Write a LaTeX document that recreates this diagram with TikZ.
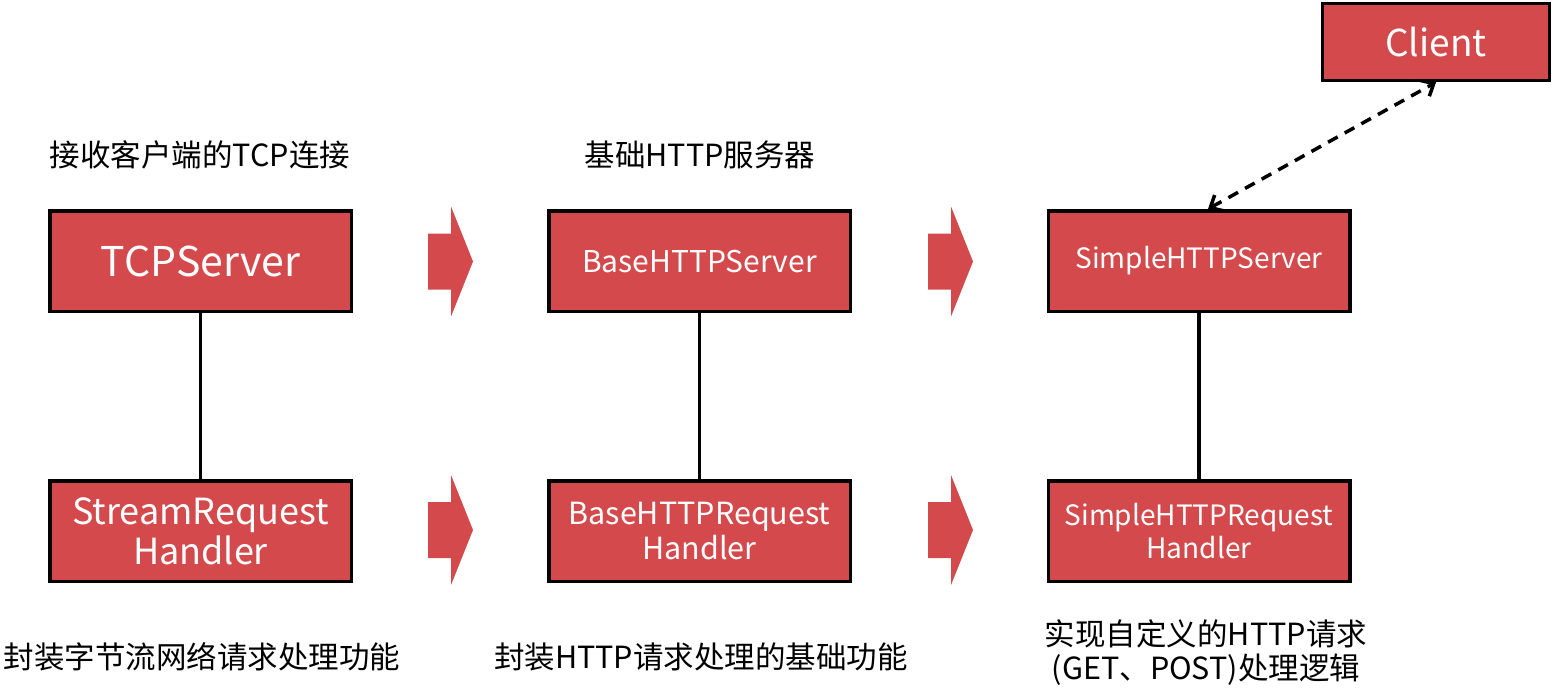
\documentclass[tikz,border=0pt]{standalone}
\usepackage{fontspec}
\setmainfont{Noto Sans CJK SC}
\usetikzlibrary{arrows.meta,positioning}
\definecolor{boxred}{RGB}{212,73,76}

\begin{document}
\begin{tikzpicture}[x=1pt,y=-1pt,
  box/.style={draw=black,fill=boxred,line width=3.5pt,minimum width=301.5pt,minimum height=100.5pt,text=white,align=center,inner sep=0pt},
  note/.style={align=center,font=\fontsize{30.5}{34}\selectfont}]
  \useasboundingbox (0,0) rectangle (1555,691);
  % Server boxes
  \node[box,font=\fontsize{41}{46}\selectfont] (tcp) at (200.5,261) {TCPServer};
  \node[box,font=\fontsize{30}{34}\selectfont] (bserver) at (699.5,261) {BaseHTTPServer};
  \node[box,font=\fontsize{28}{32}\selectfont] (sserver) at (1199,261) {SimpleHTTPServer};
  % Handler boxes
  \node[box,font=\fontsize{36}{40}\selectfont] (stream) at (200.5,531) {StreamRequest\\Handler};
  \node[box,font=\fontsize{30.5}{35}\selectfont] (bhandler) at (699.5,531) {BaseHTTPRequest\\Handler};
  \node[box,font=\fontsize{28}{33}\selectfont] (shandler) at (1199,531) {SimpleHTTPRequest\\Handler};
  % Client
  \node[box,font=\fontsize{37}{40}\selectfont,minimum width=227pt,minimum height=77pt] (client) at (1436,42) {Client};
  % Links
  \draw[line width=3.5pt] (tcp) -- (stream);
  \draw[line width=3.5pt] (bserver) -- (bhandler);
  \draw[line width=3.5pt] (sserver) -- (shandler);
  \draw[line width=3.5pt,dash pattern=on 11pt off 8pt,{Straight Barb[length=10pt,width=18pt]}-{Straight Barb[length=10pt,width=18pt]}]
    ([xshift=9pt]sserver.north) -- (client.south);
  % Block arrows
  \foreach \ax/\ay in {428/261.5,928/261.5,428/530,928/530}
    \fill[boxred] (\ax,\ay-28) -- ++(23,0) -- ++(0,-27) -- ++(22,55) -- ++(-22,55)
      -- ++(0,-27) -- ++(-23,0) -- cycle;
  % Notes
  \node[note] (ntcp) at (200,155) {接收客户端的TCP连接};
  \node[note] (nbase) at (700,155) {基础HTTP服务器};
  \node[note] (nstream) at (202,657) {封装字节流网络请求处理功能};
  \node[note] (nbhandler) at (701,657) {封装HTTP请求处理的基础功能};
  \node[note] (nshandler) at (1206,653) {实现自定义的HTTP请求\\(GET、POST)处理逻辑};
\end{tikzpicture}
\end{document}
